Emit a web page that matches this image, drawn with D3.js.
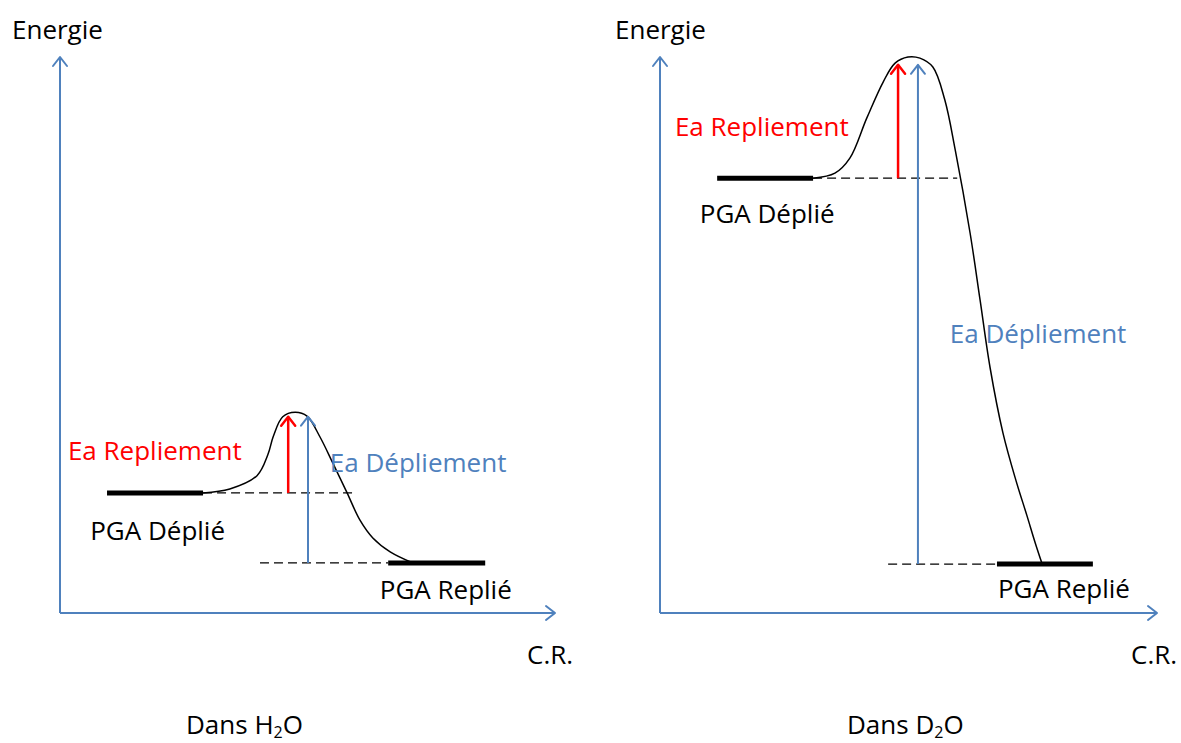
<!DOCTYPE html>
<html><head><meta charset="utf-8">
<script src="https://cdn.jsdelivr.net/npm/d3@7"></script>
<style>body{margin:0;background:#fff}svg{display:block}text{font-family:"Open Sans",sans-serif}</style>
</head><body>
<svg id="c" width="1181" height="743"></svg>
<script>
// ---- data (reaction coordinate 0-100, energy 0-100) ----
const solvents = ["H", "D"];
const unfoldedEnergy = [21.6, 78.2];
const foldedEnergy = [9.0, 8.8];
const unfoldedBarX = [[9.5, 28.9], [11.5, 30.8]];
const foldedBarX = [[66.3, 85.9], [67.8, 87.1]];
const unfoldedDashEnd = [59.0, 59.8];
const foldedDashStart = [40.4, 45.9];
const repliementArrowX = [46.1, 47.9];
const depliementArrowX = [50.1, 51.9];
const arrowTopEnergy = [35.3, 98.6];
const curveH2O = [[28.9,21.6],[34.3,22.3],[39.8,24.7],[42.0,28.5],[43.1,31.8],[45.0,35.3],[47.5,36.1],[49.9,35.4],[52.5,31.7],[55.1,27.0],[58.0,21.6],[60.6,16.7],[63.2,13.5],[66.7,11.0],[71.3,9.0]];
const curveD2O = [[30.8,78.2],[35.2,79.1],[38.2,81.8],[41.6,89.0],[44.9,95.5],[47.3,98.9],[49.9,100],[52.3,99.8],[54.9,98.2],[57.3,92.3],[59.4,83.3],[62.4,68.3],[64.4,56.3],[66.4,44.2],[69.0,32.4],[71.6,23.9],[73.8,17.6],[75.5,12.6],[76.9,8.8]];
const curves = [curveH2O, curveD2O];
const labelRepliement = "Ea Repliement";
const labelDepliement = "Ea Dépliement";
const labelUnfolded = "PGA Déplié";
const labelFolded = "PGA Replié";
const axisY = "Energie";
const axisX = "C.R.";

// ---- layout ----
const panelLeft = [60, 660];
const panelRight = [555, 1157];
const yTop = 57, yBottom = 613;
const blue = "#4F81BD", red = "#FF0000";
const fs = 26;

const svg = d3.select("#c");

function chevron(g, x, y, dir, color, w) {
  const a = 7, l = 9;
  const d = dir === "up"
    ? `M${x - a},${y + l}L${x},${y}L${x + a},${y + l}`
    : `M${x - l},${y - a}L${x},${y}L${x - l},${y + a}`;
  g.append("path").attr("d", d).attr("fill", "none").attr("stroke", color)
    .attr("stroke-width", w).attr("stroke-linecap", "round").attr("stroke-linejoin", "round");
}

const labelPos = [
  {rep:[1.6, 460], dep:[54.5, 472], unf:[6.1, 540], fol:[64.6, 599], ytx:12, xtx:527, title:186},
  {rep:[3.0, 136], dep:[58.3, 343], unf:[8.0, 223], fol:[68.0, 598], ytx:615, xtx:1131, title:847}
];

solvents.forEach((s, i) => {
  const x = d3.scaleLinear().domain([0, 100]).range([panelLeft[i], panelRight[i]]);
  const y = d3.scaleLinear().domain([0, 100]).range([yBottom, yTop]);
  const g = svg.append("g");

  // axes
  g.append("line").attr("x1", x(0)).attr("x2", x(0)).attr("y1", y(0)).attr("y2", y(100))
    .attr("stroke", blue).attr("stroke-width", 2);
  chevron(g, x(0), y(100), "up", blue, 2);
  g.append("line").attr("x1", x(0)).attr("x2", x(100)).attr("y1", y(0)).attr("y2", y(0))
    .attr("stroke", blue).attr("stroke-width", 2);
  chevron(g, x(100), y(0), "right", blue, 2);

  // dashed reference lines
  g.append("line").attr("x1", x(unfoldedBarX[i][1])).attr("x2", x(unfoldedDashEnd[i]))
    .attr("y1", y(unfoldedEnergy[i])).attr("y2", y(unfoldedEnergy[i]))
    .attr("stroke", "#000").attr("stroke-width", 1.3).attr("stroke-dasharray", "9,5");
  g.append("line").attr("x1", x(foldedDashStart[i])).attr("x2", x(foldedBarX[i][0]))
    .attr("y1", y(foldedEnergy[i])).attr("y2", y(foldedEnergy[i]))
    .attr("stroke", "#000").attr("stroke-width", 1.3).attr("stroke-dasharray", "9,5");

  // level bars
  g.append("line").attr("x1", x(unfoldedBarX[i][0])).attr("x2", x(unfoldedBarX[i][1]))
    .attr("y1", y(unfoldedEnergy[i])).attr("y2", y(unfoldedEnergy[i]))
    .attr("stroke", "#000").attr("stroke-width", 5);
  g.append("line").attr("x1", x(foldedBarX[i][0])).attr("x2", x(foldedBarX[i][1]))
    .attr("y1", y(foldedEnergy[i])).attr("y2", y(foldedEnergy[i]))
    .attr("stroke", "#000").attr("stroke-width", 5);

  // energy curve
  const line = d3.line().x(d => x(d[0])).y(d => y(d[1])).curve(d3.curveCatmullRom.alpha(0.5));
  g.append("path").attr("d", line(curves[i])).attr("fill", "none")
    .attr("stroke", "#000").attr("stroke-width", 1.5);

  // activation arrows
  g.append("line").attr("x1", x(repliementArrowX[i])).attr("x2", x(repliementArrowX[i]))
    .attr("y1", y(unfoldedEnergy[i])).attr("y2", y(arrowTopEnergy[i]))
    .attr("stroke", red).attr("stroke-width", 2.5);
  chevron(g, x(repliementArrowX[i]), y(arrowTopEnergy[i]), "up", red, 2.5);
  g.append("line").attr("x1", x(depliementArrowX[i])).attr("x2", x(depliementArrowX[i]))
    .attr("y1", y(foldedEnergy[i])).attr("y2", y(arrowTopEnergy[i]))
    .attr("stroke", blue).attr("stroke-width", 2);
  chevron(g, x(depliementArrowX[i]), y(arrowTopEnergy[i]), "up", blue, 2);

  // labels
  const L = labelPos[i];
  g.append("text").attr("x", x(L.rep[0])).attr("y", L.rep[1]).attr("fill", red)
    .attr("font-size", fs).text(labelRepliement);
  g.append("text").attr("x", x(L.dep[0])).attr("y", L.dep[1]).attr("fill", blue)
    .attr("font-size", fs).text(labelDepliement);
  g.append("text").attr("x", x(L.unf[0])).attr("y", L.unf[1]).attr("fill", "#000")
    .attr("font-size", fs).text(labelUnfolded);
  g.append("text").attr("x", x(L.fol[0])).attr("y", L.fol[1]).attr("fill", "#000")
    .attr("font-size", fs).text(labelFolded);
  g.append("text").attr("x", L.ytx).attr("y", 39).attr("fill", "#000")
    .attr("font-size", fs).text(axisY);
  g.append("text").attr("x", L.xtx).attr("y", 664).attr("fill", "#000")
    .attr("font-size", fs).text(axisX);
  const t = g.append("text").attr("x", L.title).attr("y", 734).attr("fill", "#000").attr("font-size", fs);
  t.append("tspan").text("Dans " + s);
  t.append("tspan").attr("font-size", 16).attr("dy", 4).text("2");
  t.append("tspan").attr("dy", -4).text("O");
});
</script>
</body></html>
